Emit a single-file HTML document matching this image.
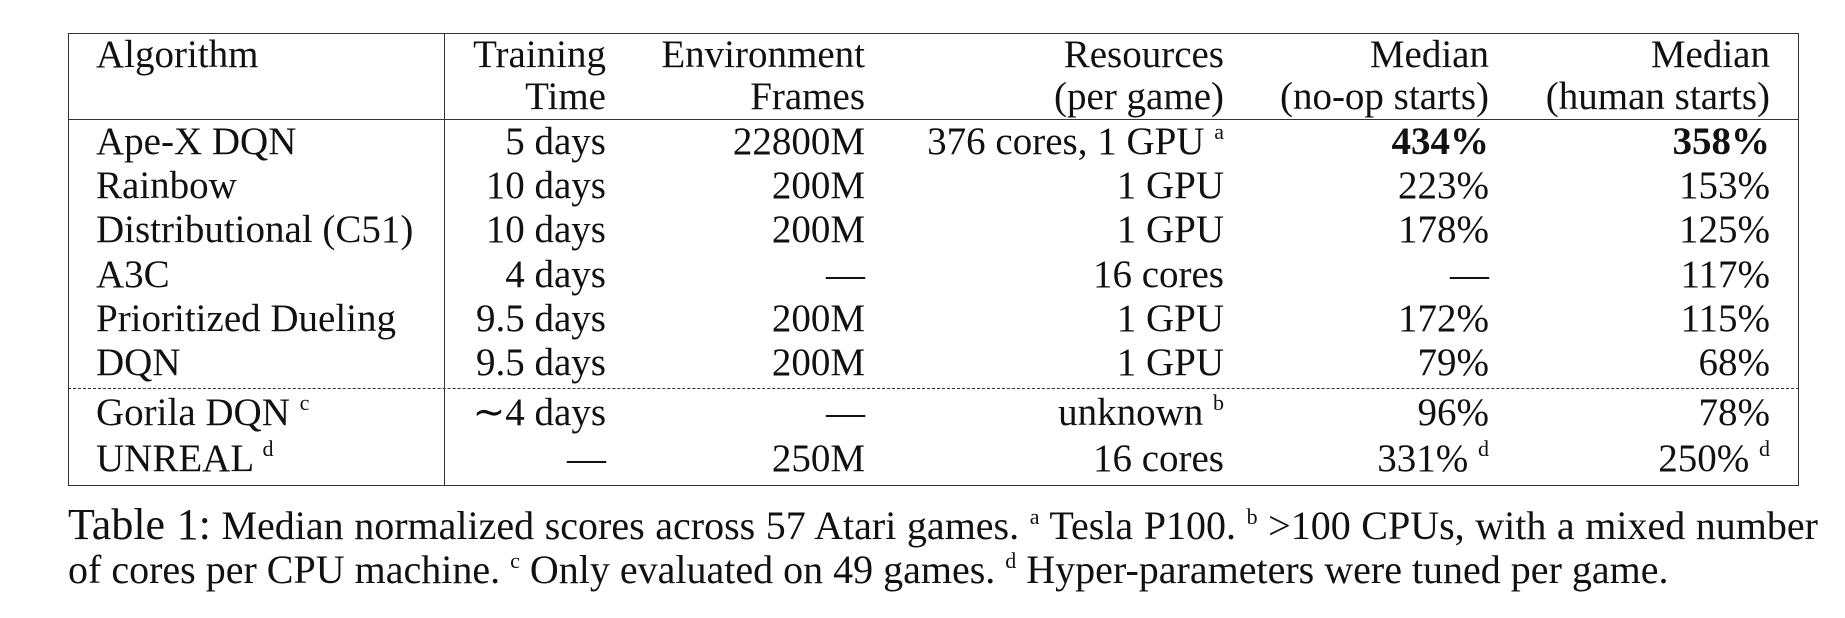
<!DOCTYPE html>
<html><head><meta charset="utf-8"><style>
body{margin:0;width:1845px;height:618px;background:#fff;position:relative;overflow:hidden;font-family:"Liberation Serif",serif;color:#111}
.t{position:absolute;font-size:39px;line-height:36px;white-space:nowrap}
.r{text-align:right}
sup{font-size:22px;vertical-align:15px;line-height:0}
.box{position:absolute;left:68px;top:33px;width:1729px;height:451px;border:1.5px solid #333}
.hl{position:absolute;left:68px;width:1731px;height:0;border-top:1.5px solid #333}
.dl{position:absolute;left:68px;width:1731px;height:0;border-top:1.5px dashed #333}
.vl{position:absolute;left:444px;top:33px;width:0;height:452px;border-left:1.5px solid #333}
.cap{position:absolute;left:68px;font-size:40px;line-height:40px;white-space:nowrap}
</style></head><body>
<div class="box"></div>
<div class="hl" style="top:119px"></div>
<div class="dl" style="top:388px"></div>
<div class="vl"></div>

<div class="t" style="left:96px;top:37px">Algorithm</div>
<div class="t r" style="right:1239px;top:37px">Training</div>
<div class="t r" style="right:1239px;top:79px">Time</div>
<div class="t r" style="right:980px;top:37px">Environment</div>
<div class="t r" style="right:980px;top:79px">Frames</div>
<div class="t r" style="right:621px;top:37px">Resources</div>
<div class="t r" style="right:621px;top:79px">(per game)</div>
<div class="t r" style="right:356px;top:37px">Median</div>
<div class="t r" style="right:356px;top:79px">(no-op starts)</div>
<div class="t r" style="right:75px;top:37px">Median</div>
<div class="t r" style="right:75px;top:79px">(human starts)</div>

<div class="t" style="left:96px;top:124px">Ape-X DQN</div>
<div class="t r" style="right:1239px;top:124px">5 days</div>
<div class="t r" style="right:980px;top:124px">22800M</div>
<div class="t r" style="right:621px;top:124px">376 cores, 1 GPU <sup>a</sup></div>
<div class="t r" style="right:356px;top:124px"><b>434%</b></div>
<div class="t r" style="right:75px;top:124px"><b>358%</b></div>

<div class="t" style="left:96px;top:168px">Rainbow</div>
<div class="t r" style="right:1239px;top:168px">10 days</div>
<div class="t r" style="right:980px;top:168px">200M</div>
<div class="t r" style="right:621px;top:168px">1 GPU</div>
<div class="t r" style="right:356px;top:168px">223%</div>
<div class="t r" style="right:75px;top:168px">153%</div>

<div class="t" style="left:96px;top:212px">Distributional (C51)</div>
<div class="t r" style="right:1239px;top:212px">10 days</div>
<div class="t r" style="right:980px;top:212px">200M</div>
<div class="t r" style="right:621px;top:212px">1 GPU</div>
<div class="t r" style="right:356px;top:212px">178%</div>
<div class="t r" style="right:75px;top:212px">125%</div>

<div class="t" style="left:96px;top:257px">A3C</div>
<div class="t r" style="right:1239px;top:257px">4 days</div>
<div class="t r" style="right:980px;top:257px">—</div>
<div class="t r" style="right:621px;top:257px">16 cores</div>
<div class="t r" style="right:356px;top:257px">—</div>
<div class="t r" style="right:75px;top:257px">117%</div>

<div class="t" style="left:96px;top:301px">Prioritized Dueling</div>
<div class="t r" style="right:1239px;top:301px">9.5 days</div>
<div class="t r" style="right:980px;top:301px">200M</div>
<div class="t r" style="right:621px;top:301px">1 GPU</div>
<div class="t r" style="right:356px;top:301px">172%</div>
<div class="t r" style="right:75px;top:301px">115%</div>

<div class="t" style="left:96px;top:345px">DQN</div>
<div class="t r" style="right:1239px;top:345px">9.5 days</div>
<div class="t r" style="right:980px;top:345px">200M</div>
<div class="t r" style="right:621px;top:345px">1 GPU</div>
<div class="t r" style="right:356px;top:345px">79%</div>
<div class="t r" style="right:75px;top:345px">68%</div>

<div class="t" style="left:96px;top:395px">Gorila DQN <sup>c</sup></div>
<div class="t r" style="right:1239px;top:395px">∼4 days</div>
<div class="t r" style="right:980px;top:395px">—</div>
<div class="t r" style="right:621px;top:395px">unknown <sup>b</sup></div>
<div class="t r" style="right:356px;top:395px">96%</div>
<div class="t r" style="right:75px;top:395px">78%</div>

<div class="t" style="left:96px;top:441px">UNREAL <sup>d</sup></div>
<div class="t r" style="right:1239px;top:441px">—</div>
<div class="t r" style="right:980px;top:441px">250M</div>
<div class="t r" style="right:621px;top:441px">16 cores</div>
<div class="t r" style="right:356px;top:441px">331% <sup>d</sup></div>
<div class="t r" style="right:75px;top:441px">250% <sup>d</sup></div>

<div class="cap" style="top:505px;width:1750px;text-align:justify;text-align-last:justify"><span style="font-size:44px">Table 1:</span> Median normalized scores across 57 Atari games. <sup>a</sup> Tesla P100. <sup>b</sup> &gt;100 CPUs, with a mixed number</div>
<div class="cap" style="top:550px">of cores per CPU machine. <sup>c</sup> Only evaluated on 49 games. <sup>d</sup> Hyper-parameters were tuned per game.</div>
</body></html>
